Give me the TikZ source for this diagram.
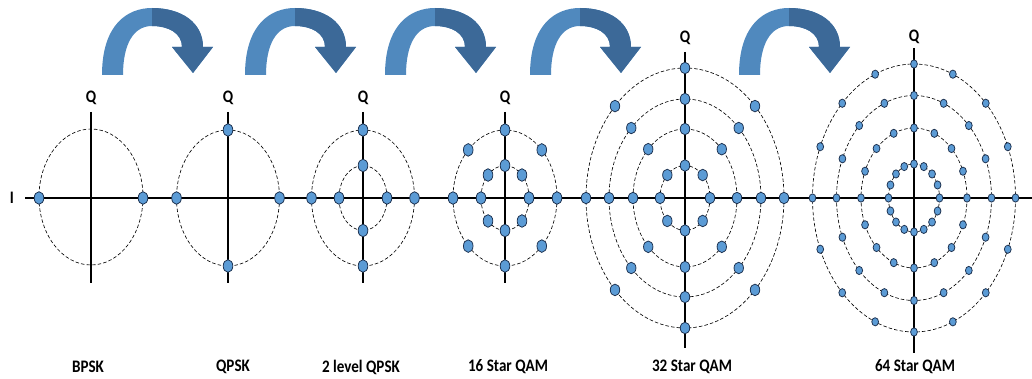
\documentclass[tikz,border=0pt]{standalone}
\usepackage{fontspec}
\setmainfont{Carlito}
\newfontfamily\narrowfont{Carlito}[FakeStretch=0.86]
\usepackage{tikz}
\usetikzlibrary{positioning}

\definecolor{dotblue}{RGB}{91,155,213}
\definecolor{dotedge}{RGB}{30,50,80}
\definecolor{arrowlight}{RGB}{80,137,190}
\definecolor{arrowdark}{RGB}{60,105,152}

% outline of one bent arrow, origin at the foot of its left leg
\newcommand{\bentarrow}{(0,0) .. controls (0,-50) and (25,-67) .. (50,-67)
  .. controls (80,-67) and (101,-52) .. (101,-28) -- (111,-28) -- (91,-2) -- (70,-28)
  -- (80,-28) .. controls (80,-42) and (66,-49) .. (50,-49)
  .. controls (31,-49) and (21,-30) .. (21,0) -- cycle}

\begin{document}
\begin{tikzpicture}[
    x=0.025cm, y=-0.025cm,
    axis/.style={line width=1.2pt},
    ring/.style={dash pattern=on 2.5pt off 1.5pt, line width=0.45pt},
    dot/.style={fill=dotblue, draw=dotedge, line width=0.55pt},
    lbl/.style={font=\narrowfont\bfseries\fontsize{12.5}{14}\selectfont},
]
\useasboundingbox (0,0) rectangle (1032,379);

% Bent arrows on top
\foreach \ox in {102,245,385,530,739} {
  \begin{scope}[shift={(\ox,75)}]
    \fill[arrowlight] \bentarrow;
    \begin{scope}
      \clip (50,-80) rectangle (130,10);
      \fill[arrowdark] \bentarrow;
    \end{scope}
  \end{scope}
}

% I axis
\draw[axis] (25,198) -- (1032,198);
\node[lbl] (iaxis) at (12,198) {I};

% BPSK
\begin{scope}[shift={(91,198)}]
  \draw[ring] (0,-1) ellipse [x radius=52, y radius=68];
  \draw[axis] (0,-86) -- (0,85);
  \foreach \a in {0,180}
    \draw[dot] (\a:52 and 68) ellipse [x radius=4.8, y radius=6.3];
  \node[lbl] (qbpsk) at (0,-100) {Q};
\end{scope}

% QPSK
\begin{scope}[shift={(228,198)}]
  \draw[ring] (0,0) ellipse [x radius=51.5, y radius=68];
  \draw[axis] (0,-86) -- (0,85);
  \foreach \a in {0,90,180,270}
    \draw[dot] (\a:51.5 and 68) ellipse [x radius=4.8, y radius=6.3];
  \node[lbl] (qqpsk) at (0,-100) {Q};
\end{scope}

% 2 level QPSK
\begin{scope}[shift={(363,198)}]
  \draw[ring] (0,0) ellipse [x radius=51.5, y radius=68];
  \draw[ring] (0,0) ellipse [x radius=24, y radius=32.5];
  \draw[axis] (0,-86) -- (0,85);
  \foreach \a in {0,90,180,270} {
    \draw[dot] (\a:51.5 and 68) ellipse [x radius=4.8, y radius=6.3];
    \draw[dot] (\a:24 and 32.5) ellipse [x radius=4.8, y radius=6.3];
  }
  \node[lbl] (qtwo) at (0,-100) {Q};
\end{scope}

% 16 Star QAM
\begin{scope}[shift={(505,198)}]
  \draw[ring] (0,0) ellipse [x radius=52, y radius=68];
  \draw[ring] (0,0) ellipse [x radius=24, y radius=32.5];
  \draw[axis] (0,-86) -- (0,85);
  \foreach \a in {0,45,...,315} {
    \draw[dot] (\a:52 and 68) ellipse [x radius=4.8, y radius=6.3];
    \draw[dot] (\a:24 and 32.5) ellipse [x radius=4.8, y radius=6.3];
  }
  \node[lbl] (qsixteen) at (0,-100) {Q};
\end{scope}

% 32 Star QAM
\begin{scope}[shift={(685,198)}]
  \foreach \rx/\ry in {25/32.5,52/69,76/99,99/130}
    \draw[ring] (0,0) ellipse [x radius=\rx, y radius=\ry];
  \draw[axis] (0,-146) -- (0,150);
  \foreach \rx/\ry in {25/32.5,52/69,76/99,99/130}
    \foreach \a in {0,45,...,315}
      \draw[dot] (\a:{\rx} and {\ry}) ellipse [x radius=4.7, y radius=5.8];
  \node[lbl] (qthirtytwo) at (0,-160) {Q};
\end{scope}

% 64 Star QAM
\begin{scope}[shift={(914,198)}]
  \foreach \rx/\ry in {25.5/34,53/70,77.5/102.5,101.5/134}
    \draw[ring] (0,0) ellipse [x radius=\rx, y radius=\ry];
  \draw[axis] (0,-150) -- (0,155);
  \foreach \rx/\ry in {25.5/34,53/70,77.5/102.5,101.5/134}
    \foreach \a in {0,22.5,...,337.5}
      \draw[dot] (\a:{\rx} and {\ry}) ellipse [x radius=3.4, y radius=4.1];
  \node[lbl] (qsixtyfour) at (0,-161) {Q};
\end{scope}

% Names underneath
\node[lbl] (bpsk) at (88,367) {BPSK};
\node[lbl] (qpsk) at (233,367) {QPSK};
\node[lbl] (twolevel) at (361,367) {2 level QPSK};
\node[lbl] (sixteen) at (508,367) {16 Star QAM};
\node[lbl] (thirtytwo) at (692,367) {32 Star QAM};
\node[lbl] (sixtyfour) at (915,367) {64 Star QAM};

\end{tikzpicture}
\end{document}
